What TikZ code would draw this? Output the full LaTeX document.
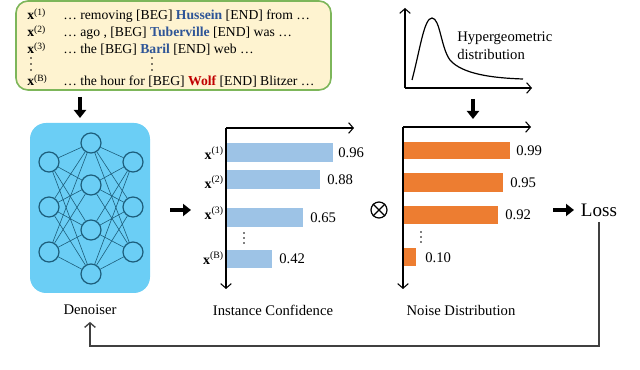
\documentclass[tikz,border=0pt]{standalone}
\usepackage{fontspec}
\setmainfont{Liberation Serif}
\usetikzlibrary{arrows.meta,calc}
\definecolor{boxfill}{HTML}{FEF3D0}
\definecolor{boxline}{HTML}{7DB65A}
\definecolor{nnfill}{HTML}{6BCEF5}
\definecolor{nnline}{HTML}{1D5E7C}
\definecolor{confbar}{HTML}{9DC3E6}
\definecolor{noisebar}{HTML}{ED7D31}
\definecolor{entblue}{HTML}{2E5597}
\definecolor{entred}{HTML}{C00000}
\definecolor{fbline}{HTML}{404040}
\newcommand{\xlab}[1]{\textbf{x}\textsuperscript{(#1)}}
\begin{document}
\begin{tikzpicture}[x=0.75pt,y=-0.75pt,
  nn/.style={circle,draw=nnline,line width=0.9pt,minimum size=15pt,inner sep=0pt},
  nnedge/.style={draw=nnline,line width=0.45pt},
  bigarrow/.style={line width=3pt,-{Triangle[length=6pt,width=9pt]}},
  axis/.style={line width=0.8pt,-{Straight Barb[length=3.5pt,width=8pt]}},
  txt/.style={font=\fontsize{10.25}{12}\selectfont,inner sep=0pt,anchor=base west},
  lbl/.style={font=\fontsize{11}{13}\selectfont,inner sep=1pt},
  val/.style={font=\fontsize{11}{13}\selectfont,inner sep=0pt,anchor=west},
  ylab/.style={font=\fontsize{10.5}{12}\selectfont,inner sep=0pt,anchor=east},
  fb/.style={draw=fbline,line width=1pt,-{Straight Barb[length=3.5pt,width=8pt]}}]
\useasboundingbox (0,0) rectangle (640,370);

% input box
\node (inbox) [draw=boxline,fill=boxfill,line width=1.2pt,rounded corners=9pt,
  minimum width=236.25pt,minimum height=66.75pt,inner sep=0pt] at (173.5,45.5) {};
\node (l1) [txt] at (27,20) {\xlab{1}};
\node (l2) [txt] at (27,37) {\xlab{2}};
\node (l3) [txt] at (27,54) {\xlab{3}};
\node (l4) [txt] at (27,86) {\xlab{B}};
\node (t1) [txt] at (63,20) {… removing [BEG] \textbf{\color{entblue}Hussein} [END] from …};
\node (t2) [txt] at (63,37) {… ago , [BEG] \textbf{\color{entblue}Tuberville} [END] was …};
\node (t3) [txt] at (63,54) {… the [BEG] \textbf{\color{entblue}Baril} [END] web …};
\node (t4) [txt] at (63,86) {… the hour for [BEG] \textbf{\color{entred}Wolf} [END] Blitzer …};
\foreach \dy in {58,64,70} {
  \fill (31,\dy) circle (0.9);
  \fill (152,\dy) circle (0.9);
}

\draw[bigarrow] (80,97) -- (80,118);

% denoiser
\node (den) [fill=nnfill,rounded corners=12pt,minimum width=90pt,minimum height=127.5pt,inner sep=0pt] at (90,208) {};
\foreach \i/\y in {1/162,2/207,3/252} {
  \node (a\i) [nn] at (49,\y) {};
  \node (c\i) [nn] at (133,\y) {};
}
\foreach \j/\y in {1/143,2/185,3/230,4/274} {
  \node (b\j) [nn] at (91,\y) {};
}
\foreach \i in {1,2,3} \foreach \j in {1,2,3,4} {
  \draw[nnedge] (a\i) -- (b\j);
  \draw[nnedge] (b\j) -- (c\i);
}
\node (denlabel) [lbl] at (90,310) {Denoiser};

\draw[bigarrow] (170,210) -- (191,210);

% instance confidence
\fill[confbar] (226,143) rectangle (333,162);
\fill[confbar] (226,170) rectangle (320,189);
\fill[confbar] (226,208) rectangle (303,227);
\fill[confbar] (226,250) rectangle (272,268);
\coordinate (co) at (226,128);
\draw[axis] (co) -- (354,128);
\draw[axis] (co) -- (226,289);
\node (cy1) [ylab] at (224,153) {\xlab{1}};
\node (cy2) [ylab] at (224,182) {\xlab{2}};
\node (cy3) [ylab] at (224,213) {\xlab{3}};
\node (cy4) [ylab] at (224,258) {\xlab{B}};
\foreach \dy in {233,238,243} \fill (244,\dy) circle (0.8);
\node (cv1) [val] at (338,153) {0.96};
\node (cv2) [val] at (327,180) {0.88};
\node (cv3) [val] at (310,218) {0.65};
\node (cv4) [val] at (279,259) {0.42};
\node (clabel) [lbl] at (273,310) {Instance Confidence};

% otimes
\node (ot) [circle,draw,line width=0.9pt,minimum size=12pt,inner sep=0pt] at (379,210) {};
\draw[line width=0.9pt] (ot.north west) -- (ot.south east);
\draw[line width=0.9pt] (ot.north east) -- (ot.south west);

% hypergeometric
\coordinate (ho) at (405,88);
\draw[axis] (ho) -- (405,8);
\draw[axis] (ho) -- (532,88);
\draw[line width=0.9pt] (412,80) .. controls (420,50) and (424,18) .. (432,18)
  .. controls (440,18) and (441,48) .. (450,60)
  .. controls (462,74) and (492,78) .. (523,79);
\node (hlabel) [font=\fontsize{11}{13.5}\selectfont,align=left,anchor=west,inner sep=0pt] at (457,46) {Hypergeometric\\distribution};
\draw[bigarrow] (473,99) -- (473,119);

% noise distribution
\fill[noisebar] (403,142) rectangle (510,159);
\fill[noisebar] (403,173) rectangle (503,192);
\fill[noisebar] (403,206) rectangle (498,224);
\fill[noisebar] (403,248) rectangle (416,266);
\coordinate (no) at (403,127);
\draw[axis] (no) -- (531,127);
\draw[axis] (no) -- (403,289);
\foreach \dy in {232,237,242} \fill (421,\dy) circle (0.8);
\node (nv1) [val] at (516,151) {0.99};
\node (nv2) [val] at (510,183) {0.95};
\node (nv3) [val] at (505,215) {0.92};
\node (nv4) [val] at (425,258) {0.10};
\node (nlabel) [lbl] at (461,310) {Noise Distribution};

\draw[bigarrow] (553,210) -- (574,210);
\node (loss) [font=\fontsize{14.3}{16}\selectfont,inner sep=1pt] at (599,210) {Loss};

% feedback
\coordinate (fbcorner) at (90,346);
\draw[fb] ([yshift=-3pt]loss.south) |- (fbcorner) -- ([yshift=-4pt]denlabel.south);
\end{tikzpicture}
\end{document}
